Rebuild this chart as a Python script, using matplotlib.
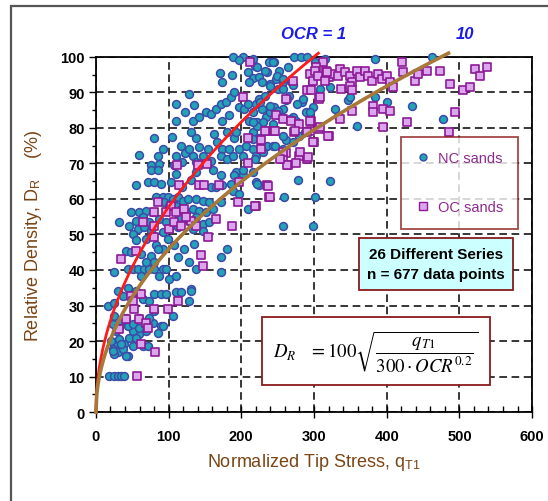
import numpy as np
import matplotlib
matplotlib.use("Agg")
import matplotlib.pyplot as plt
from matplotlib.patches import Rectangle
from matplotlib.lines import Line2D

# ── data: normalized tip stress qT1 and relative density DR (%) ────────────
nc_q = [
    188, 202, 273, 282, 291, 197, 219, 171, 187, 174, 209, 216, 211, 225, 229,
    238, 245, 252, 264, 236, 248, 257, 268, 239, 250, 257, 271, 128, 110, 122,
    135, 110, 133, 142, 151, 158, 165, 172, 179, 186, 183, 190, 174, 197, 204,
    209, 216, 220, 225, 211, 222, 229, 234, 239, 245, 250, 257, 261, 266, 243,
    284, 289, 298, 271, 275, 80, 92, 85, 59, 76, 87, 105, 117, 122, 110, 108,
    119, 131, 138, 142, 133, 147, 154, 158, 138, 128, 163, 167, 174, 172, 181,
    183, 188, 190, 181, 193, 197, 202, 206, 216, 220, 229, 236, 225, 216, 243,
    257, 261, 271, 280, 287, 193, 202, 216,
    76, 85, 110, 138, 161, 172, 190, 202, 55, 71, 80, 89, 103, 119, 131, 158,
    165, 174, 186, 188, 197, 220, 225, 209, 278, 259, 257,
    82.6, 91.7, 98.6, 105.5, 112.4, 119.3, 126, 137.6, 146.8, 156, 172, 94,
    101, 110, 117, 123.9, 133, 142, 151, 160.6, 48, 59.6, 68.8, 78, 55, 64.2,
    73.4, 87.2, 96.3, 114.7, 128.4, 137.6, 146.8, 156, 32, 45.9, 57.3, 66.5,
    75.7, 91.7, 101, 112.4, 133, 146.8, 50.5,
    55, 68.8, 82.6, 91.7, 107.8, 121.6, 135.3, 98.6, 181, 41.3, 48.2, 62,
    75.7, 84.9, 112.4, 128.4, 137.6, 172, 25.2, 43.6, 50.5, 57.3, 66.5, 73.4,
    80.3, 91.7, 96.3, 80.3, 68.8, 62, 87.2, 101, 110, 130.7, 172,
    18.3, 25.2, 29.8, 34.4, 39, 16, 25.2, 29.8, 36.7, 43.6, 55, 64.2, 73.4,
    80.3, 89.4, 96.3, 110, 117, 130.7, 128.4, 105.5, 89.4, 78, 68.8, 59.6,
    50.5, 43.6, 34.4, 25.2, 22.9, 27.5, 32.1, 39, 45.9, 55, 64.2, 71.1, 27.5,
    22.9, 29.8, 36.7, 43.6, 50.5, 41.3, 59.6, 73.4, 80.3, 91.7, 84.9, 20.6,
    25.2, 34.4, 50.5, 32.1, 59.6, 55, 23.4, 42,
    384, 462, 434.4, 477, 328.9, 333.5, 294.5, 358.7, 400, 383.9, 347.3,
    321.6, 301, 221, 299, 232.6, 301.4, 315, 308.3, 349.5, 315, 321.6, 296.8,
    216.5, 221, 232.6, 244, 248.7, 257.8, 239.5, 225.7, 239.5, 251, 262.4,
    276.2, 285.3, 255.5, 267, 230, 221, 216.5, 225.7, 246, 257.8, 230, 219,
    216.5,
]
nc_dr = [
    100, 100, 100, 100, 100, 99, 97.5, 95.5, 95, 93, 95.7, 94, 93, 94.3, 93,
    98.5, 98.5, 96, 97, 95.7, 93.7, 92.8, 93.3, 92.4, 91, 91, 92, 89.6, 86.8,
    84.4, 86.5, 82, 82, 83, 84.4, 84, 85.4, 86.8, 87.2, 88.6, 83.5, 90, 82,
    85.8, 85.4, 86.8, 84.4, 86.8, 88.2, 82, 81.6, 85.4, 83, 84.4, 85.8, 83.5,
    85.4, 87.7, 89, 81, 87.2, 84.4, 85.8, 83, 82, 77, 74, 72.2, 72.4, 69.4,
    69.9, 77.4, 75, 73, 72.2, 69.4, 70.3, 78.8, 77, 74.6, 72.2, 72.2, 74,
    70.8, 70.3, 74, 78.3, 76, 74, 72.2, 71.3, 74, 72.2, 77, 78.8, 78.8, 74,
    72.2, 75, 74, 72.2, 74, 75, 77, 78.8, 75, 74, 76.5, 76, 77.8, 78.8, 67.5,
    66.6, 67.5,
    68, 68, 67, 67.5, 68, 66.6, 66.6, 68, 63.8, 64.7, 64.7, 64.2, 64.7, 63.3,
    65.2, 63.3, 63.3, 63.8, 64.2, 62.3, 61.4, 64.7, 63.8, 57.2, 65.2, 60.5,
    52.5,
    60.5, 60.5, 60.5, 60, 60.5, 59.5, 60, 60, 59.5, 59, 59, 59, 58.1, 58.1,
    57.2, 56.2, 57.2, 56.7, 56.2, 57.2, 56.2, 56.2, 56.7, 56.2, 53.9, 54.8,
    53.4, 54.4, 53.4, 54.8, 53.9, 54.8, 53, 53.4, 53.4, 52.5, 51.5, 52, 51.1,
    50.6, 51.5, 52, 51.5, 51.1, 50.1,
    48.3, 48.7, 46.9, 45.9, 46.9, 45.9, 47.3, 48.7, 45.9, 45.4, 45, 44.5, 44,
    45.9, 43.6, 42.2, 40.3, 43.6, 39.3, 40.3, 40.3, 40.3, 40.3, 40.3, 40.3,
    40.3, 40.3, 42.2, 42.2, 38.4, 38.4, 37.5, 38.4, 34.6, 39.3,
    10.2, 10.2, 10.2, 10.2, 10.2, 29.9, 30.8, 34.1, 32.7, 35, 34.1, 31.8,
    31.3, 33.2, 33.2, 33.2, 33.7, 33.7, 34.1, 31.3, 27.1, 24.3, 25.2, 22.9,
    21.9, 22.9, 24.3, 25.7, 27.1, 24.7, 22.9, 20.5, 19.1, 21, 19.6, 18.6,
    18.6, 18.6, 17.7, 16.8, 17.7, 15.8, 24.7, 26.6, 26.6, 26.6, 28.5, 24.3,
    22.4, 20, 16.3, 19.1, 18.6, 23.8, 23.8, 21, 17.3, 15.9,
    99.4, 100, 86.2, 82.5, 85.3, 83.4, 84.4, 80.6, 87.2, 88.6, 87.7, 65.1,
    60.4, 64.1, 52.4, 89, 98.5, 99.4, 91, 88.6, 93.8, 91.4, 92.8, 99.4, 97,
    96, 98.5, 94.7, 93.8, 91.9, 87.2, 86.2, 84.8, 88.1, 86.7, 88.1, 83, 82.5,
    81.5, 80.6, 76.8, 74.5, 75, 77.8, 73.1, 71.2, 81.5,
]

oc_q = [
    212, 312, 303, 316, 321, 328, 294, 298, 291, 296, 307, 271, 261, 202, 248,
    257, 268, 280, 296, 307, 294, 273, 234, 245, 209, 227, 227, 261, 257, 280,
    291, 300, 321, 264, 275, 209, 111, 140, 153,
    114.7, 142, 149, 169.7, 197, 236, 238.5, 220, 196, 84.9, 103, 80.3, 96.3,
    110, 121.6, 64.2, 80.3, 101, 107.8, 117, 130.7, 123.9, 165, 187, 137.6,
    153.7, 80.3, 55, 34.4, 144.5, 147.7, 62,
    48.2, 50.5, 52.8, 98.6, 112.4, 80.3, 41.3, 32.1, 59.6, 68.8, 71.1, 62,
    81.7, 56,
    301.4, 306, 317.4, 315, 335.8, 333.5, 342.7, 349.5, 358.7, 351.8, 363.3,
    370, 374.8, 379.4, 388.5, 393, 400, 404.6, 409.2, 420.6, 423, 439, 443.6,
    455, 473.4, 487.2, 505.5, 514.7, 521.6, 528.4, 537.6, 349.5, 351.8, 308.3,
    336.9, 351.8, 381.7, 381.7, 395.4, 404.6, 335.8, 294.5, 308.3, 319.7, 299,
    290, 274, 280.7, 292, 258, 262.4, 253.2, 427.6, 394.4, 494, 485, 246,
    232.6, 237.2, 239.5, 219,
]
oc_dr = [
    98.5, 98.5, 97, 96, 94.3, 95.2, 95.2, 93.3, 90.5, 90.5, 88.2, 93.3, 88.2,
    88.6, 83.5, 82.5, 82, 81, 82, 79.7, 79.2, 78.8, 79.2, 79.2, 77, 76.5, 74,
    73, 71.3, 72.2, 71.3, 76, 77.8, 69.4, 70, 70, 69.6, 69.4, 69.7,
    63.8, 63.8, 63.8, 63.8, 64.7, 63.8, 60.5, 58.1, 59, 59, 58.1, 56.2, 56.2,
    56.2, 57.2, 53.4, 52.5, 51.5, 53.4, 52.5, 53.9, 54.8, 54.4, 52.5, 52.5,
    49.2, 49.2, 45.4, 43.1, 44.2, 41.2, 33.2,
    32.7, 31.3, 29, 29, 31.3, 29, 26.2, 23.3, 26.2, 25.2, 23.8, 19.1, 17,
    10.2,
    96.1, 94.7, 95.6, 93.3, 96.6, 94.7, 95.6, 94.7, 96.1, 92.8, 94.2, 96.1,
    94.7, 93.3, 95.2, 93.8, 94.7, 92.8, 91.4, 98.5, 95.6, 93.3, 95.2, 96.1,
    96.1, 92.3, 90.5, 91.4, 96.6, 94.7, 97, 91.9, 90.5, 88.6, 91, 84.8, 86.2,
    84.4, 85.3, 84.8, 82.5, 82, 80.1, 77.8, 75.9, 78.7, 79.2, 73.1, 71.7,
    73.1, 69.4, 71.2, 81.5, 80.1, 84.4, 78.7, 79.2, 79.2, 63.7, 60.4, 58,
]

ocr_values = [1, 10]

# ── figure ────────────────────────────────────────────────────────────────
plt.rcParams["font.family"] = ["Liberation Sans", "DejaVu Sans"]
plt.rcParams["mathtext.fontset"] = "stix"

fig = plt.figure(figsize=(5.48, 5.02), dpi=100)
ax = fig.add_axes([0.175, 0.177, 0.796, 0.708])

# outer frame line (top and left)
fig.add_artist(Rectangle((0.02, -0.05), 1.2, 1.036, transform=fig.transFigure,
                         fill=False, ec="#555555", lw=1.6))

brown = "#7a4515"
ax.set_xlim(0, 600)
ax.set_ylim(0, 100)
ax.set_xticks(np.arange(0, 601, 100))
ax.set_yticks(np.arange(0, 101, 10))
ax.set_xticks(np.arange(0, 601, 20), minor=True)
ax.set_yticks(np.arange(0, 101, 5), minor=True)
ax.tick_params(axis="x", which="major", direction="inout", length=8, width=1,
               pad=8, labelsize=10.5)
ax.tick_params(axis="x", which="minor", direction="in", length=4, width=1)
ax.tick_params(axis="y", which="major", direction="out", length=5, width=1,
               pad=3, labelsize=10.5)
ax.tick_params(axis="y", which="minor", direction="out", length=3, width=1)
for lab in ax.get_xticklabels() + ax.get_yticklabels():
    lab.set_fontweight("bold")
for sp in ax.spines.values():
    sp.set_linewidth(1.3)

ax.grid(True, which="major", color="black", linestyle=(0, (5, 3)), lw=1.1)
ax.set_axisbelow(True)

ax.set_xlabel(r"Normalized Tip Stress, q$_{\mathregular{T1}}$", fontsize=13,
              color=brown, labelpad=6)
ax.set_ylabel(r"Relative Density, D$_{\mathregular{R}}$    (%)", fontsize=13,
              color=brown, labelpad=12)

# scatter points
ax.scatter(nc_q, nc_dr, s=32, marker="o", facecolor="#22a3b8",
           edgecolor="#3b4ba8", lw=1.1, zorder=3, clip_on=False)
ax.scatter(oc_q, oc_dr, s=34, marker="s", facecolor="#dca6ee",
           edgecolor="#8c1a96", lw=1.2, zorder=3, clip_on=False)

# trend curves DR = 100 sqrt(qT1 / (300 OCR^0.2))
for ocr, col, lw in zip(ocr_values, ["#ff1a1a", "#a87838"], [2.0, 2.6]):
    qmax = 300 * ocr ** 0.2 * 1.02
    qq = np.linspace(0, qmax, 400)
    ax.plot(qq, 100 * np.sqrt(qq / (300 * ocr ** 0.2)), color=col, lw=lw,
            zorder=4, clip_on=False)

ax.text(300, 104.5, "OCR = 1", color="#1c1ce8", fontsize=12, fontweight="bold",
        style="italic", ha="center", va="bottom")
ax.text(507, 104.5, "10", color="#1c1ce8", fontsize=12, fontweight="bold",
        style="italic", ha="center", va="bottom")

# legend box
leg_handles = [
    Line2D([], [], marker="o", ls="none", ms=5, mfc="#22a3b8", mec="#3b4ba8"),
    Line2D([], [], marker="s", ls="none", ms=5.5, mfc="#dca6ee", mec="#8c1a96"),
]
leg = ax.legend(leg_handles, ["NC sands", "OC sands"], loc="upper left",
                bbox_to_anchor=(0.70, 0.775), frameon=True, fancybox=False,
                labelspacing=2.4, handletextpad=0.5, handlelength=1.0,
                borderpad=1.0, borderaxespad=0, fontsize=10.5,
                labelcolor="#8e2a8e")
leg.get_frame().set_edgecolor("#8b1a1a")
leg.get_frame().set_linewidth(1.3)
leg.set_zorder(6)

ax.text(468, 41.7, "26 Different Series\nn = 677 data points", ha="center",
        va="center", fontsize=11, fontweight="bold", linespacing=1.6,
        zorder=6,
        bbox=dict(boxstyle="square,pad=0.55", fc="#ccffff", ec="#8b1a1a",
                  lw=1.3))

ax.text(385, 17.2,
        r"$D_R\ \ \ =100\sqrt{\dfrac{q_{T1}}{300\cdot OCR^{0.2}}}$",
        ha="center", va="center", fontsize=13.5, zorder=6,
        bbox=dict(boxstyle="square,pad=0.6", fc="white", ec="#8b1a1a",
                  lw=1.3))

fig.savefig("out.png", dpi=100)
